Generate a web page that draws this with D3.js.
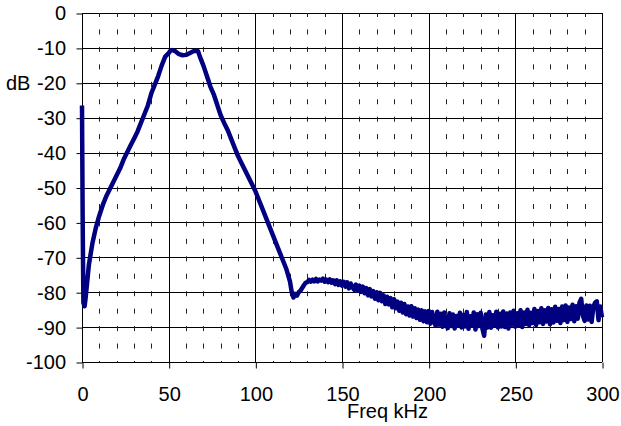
<html>
<head>
<meta http-equiv="Content-Type" content="text/html; charset=utf-8" />
<title>Freq response</title>
<script src="https://cdn.jsdelivr.net/npm/d3@7/dist/d3.min.js"></script>
<style type="text/css">
	body{
		margin: 0;
		background: #fff;
	}
	svg text{
		font-family: "Liberation Sans", Arial, sans-serif;
		font-size: 20px;
		fill: #000;
	}
</style>
</head>
<body>
<div id="chart"></div>

<script type="text/javascript">
	// axis ticks
	var xTicks = [0, 50, 100, 150, 200, 250, 300];
	var xMinor = [10, 20, 30, 40, 60, 70, 80, 90, 110, 120, 130, 140, 160, 170, 180, 190, 210, 220, 230, 240, 260, 270, 280, 290];
	var yTicks = [0, -10, -20, -30, -40, -50, -60, -70, -80, -90, -100];

	// measured response up to the notch, kHz / dB
	var freq = [0, 0.4, 0.8, 1.5, 2, 3, 4, 5, 6, 8, 10, 12, 14, 16, 18, 20, 22, 24, 26, 28, 30,
		32, 34, 36, 38, 40, 42, 44, 46, 48, 50, 51, 52, 54, 56, 58, 60, 62, 64, 66, 67, 68, 70,
		72, 74, 76, 78, 80, 82, 84, 86, 88, 90, 92, 94, 96, 98, 100, 102, 104, 106, 108, 110,
		112, 114, 116, 118, 120, 121, 122, 123, 124, 125];
	var level = [-26.5, -60, -83, -84, -82, -77, -72, -69, -66, -61.5, -58, -55, -52.5, -50.5, -48.5, -46.5, -44.5, -42, -40, -38, -36,
		-34, -31.5, -29, -26.5, -23, -20.5, -18, -15, -12.5, -11.5, -10.8, -10.6, -11.0, -11.8, -12.1, -12.0, -11.5, -11.0, -10.8, -11.0, -12.5, -15,
		-18, -21, -23.3, -26.3, -29.3, -31.5, -33.5, -36, -38.5, -41, -43, -45, -47, -49, -51, -53.5, -56, -58.5, -61, -63.5,
		-66, -68.5, -71, -73.5, -77, -80, -81.5, -80.5, -81, -80];

	// noisy tail, kHz / dB
	var tailFreq = [126, 127, 128, 129, 130, 131, 132, 133, 134, 135, 136, 137, 138, 139, 140,
		141, 142, 143, 144, 145, 146, 147, 148, 149, 150, 151, 152, 153, 154, 155,
		156, 157, 158, 159, 160, 161, 162, 163, 164, 165, 166, 167, 168, 169, 170,
		171, 172, 173, 174, 175, 176, 177, 178, 179, 180, 181, 182, 183, 184, 185,
		186, 187, 188, 189, 190, 191, 192, 193, 194, 195, 196, 197, 198, 199, 200,
		201, 202, 203, 204, 205, 206, 207, 208, 209, 210, 211, 212, 213, 214, 215,
		216, 217, 218, 219, 220, 221, 222, 223, 224, 225, 226, 227, 228, 229, 230,
		231, 232, 233, 234, 235, 236, 237, 238, 239, 240, 241, 242, 243, 244, 245,
		246, 247, 248, 249, 250, 251, 252, 253, 254, 255, 256, 257, 258, 259, 260,
		261, 262, 263, 264, 265, 266, 267, 268, 269, 270, 271, 272, 273, 274, 275,
		276, 277, 278, 279, 280, 281, 282, 283, 284, 285, 286, 287, 288, 289, 290,
		291, 292, 293, 294, 295, 296, 297, 298, 299, 300];
	var tailLevel = [-79.6, -78.8, -78.0, -77.3, -77.1, -76.5, -77.0, -76.4, -76.9, -76.2, -76.9, -76.4, -76.7, -76.1, -77.0,
		-76.4, -77.1, -76.3, -77.3, -76.6, -77.7, -76.6, -77.9, -76.9, -78.1, -77.0, -78.4, -77.2, -78.9, -77.5,
		-78.6, -79.3, -77.8, -79.6, -78.1, -79.9, -78.4, -80.3, -78.8, -80.9, -79.1, -81.2, -79.7, -81.9, -80.0,
		-82.3, -80.2, -82.6, -80.9, -83.4, -81.3, -83.5, -81.7, -84.3, -82.0, -84.6, -82.7, -85.3, -83.0, -85.8,
		-83.4, -86.3, -84.1, -86.7, -84.0, -87.0, -84.6, -87.4, -85.0, -87.9, -85.2, -88.3, -85.5, -88.6, -85.4,
		-89.0, -85.7, -88.2, -89.6, -85.6, -89.3, -86.2, -89.9, -85.8, -89.4, -90.3, -86.0, -89.7, -86.4, -90.4,
		-86.8, -89.5, -85.9, -90.1, -86.5, -89.8, -85.7, -90.5, -86.9, -89.6, -85.8, -90.7, -86.3, -89.7, -85.9,
		-90.4, -92.5, -86.4, -90.1, -85.7, -90.2, -86.6, -89.5, -85.6, -90.1, -86.2, -89.8, -85.5, -90.0, -86.1,
		-90.4, -85.8, -89.3, -85.3, -89.9, -86.0, -89.6, -85.2, -90.0, -85.8, -89.1, -85.0, -89.5, -85.9, -88.8,
		-84.8, -89.4, -85.4, -88.6, -84.6, -89.1, -85.2, -88.4, -84.5, -89.2, -84.9, -88.7, -84.2, -88.2, -84.8,
		-88.8, -84.1, -88.0, -83.8, -88.5, -84.4, -87.7, -83.6, -88.3, -84.0, -87.6, -83.0, -81.9, -86.8, -88.2,
		-83.8, -87.8, -83.9, -88.5, -84.3, -83.0, -82.6, -88.0, -84.1, -87.2];

	var W = 621, H = 426;
	var plotL = 82, plotR = 602, plotT = 13, plotB = 362;

	var x = d3.scaleLinear().domain([0, 300]).range([plotL, plotR]);
	var y = d3.scaleLinear().domain([-100, 0]).range([plotB, plotT]);

	var svg = d3.select('#chart')
		.append('svg')
		.attr('width', W)
		.attr('height', H);

	// horizontal grid
	svg.append('g')
		.selectAll('line')
		.data(yTicks)
		.enter()
		.append('line')
		.attr('x1', plotL)
		.attr('x2', plotR)
		.attr('y1', function(d){ return Math.round(y(d)) + 0.5; })
		.attr('y2', function(d){ return Math.round(y(d)) + 0.5; })
		.attr('stroke', '#000')
		.attr('stroke-width', 1);

	// minor vertical grid, dashed
	var band = (y(-10) - y(0)) / 2;
	svg.append('g')
		.selectAll('line')
		.data(xMinor)
		.enter()
		.append('line')
		.attr('x1', function(d){ return Math.round(x(d)) + 0.5; })
		.attr('x2', function(d){ return Math.round(x(d)) + 0.5; })
		.attr('y1', plotT)
		.attr('y2', plotB)
		.attr('stroke', '#222')
		.attr('stroke-width', 1)
		.attr('stroke-dasharray', '5,' + (band - 5))
		.attr('stroke-dashoffset', 1);

	// major vertical grid
	svg.append('g')
		.selectAll('line')
		.data(xTicks)
		.enter()
		.append('line')
		.attr('x1', function(d){ return Math.round(x(d)) + 0.5; })
		.attr('x2', function(d){ return Math.round(x(d)) + 0.5; })
		.attr('y1', plotT)
		.attr('y2', plotB)
		.attr('stroke', '#000')
		.attr('stroke-width', 1);

	// axes
	var plain = function(d){ return String(d); };
	var yAxis = d3.axisLeft(y)
		.tickValues(yTicks)
		.tickFormat(plain)
		.tickSize(6)
		.tickPadding(10.5);
	var gy = svg.append('g')
		.attr('transform', 'translate(' + (plotL + 0.5) + ',0.5)')
		.call(yAxis);

	var xAxis = d3.axisBottom(x)
		.tickValues(xTicks)
		.tickFormat(plain)
		.tickSize(6)
		.tickPadding(18.5);
	var gx = svg.append('g')
		.attr('transform', 'translate(0.5,' + (plotB + 0.5) + ')')
		.call(xAxis);

	[gx, gy].forEach(function(g){
		g.select('.domain').remove();
		g.selectAll('.tick line').attr('stroke', '#000');
		g.selectAll('.tick text')
			.attr('font-family', '"Liberation Sans", Arial, sans-serif')
			.attr('font-size', 20)
			.attr('fill', '#000');
	});

	// the trace
	var pts = freq.map(function(f, i){ return [f, level[i]]; })
		.concat(tailFreq.map(function(f, i){ return [f, tailLevel[i]]; }));
	var line = d3.line()
		.x(function(d){ return x(d[0]); })
		.y(function(d){ return y(d[1]); });

	svg.append('path')
		.datum(pts)
		.attr('d', line)
		.attr('fill', 'none')
		.attr('stroke', '#000080')
		.attr('stroke-width', 4.5)
		.attr('stroke-linejoin', 'round')
		.attr('stroke-linecap', 'butt');

	// axis titles
	svg.append('text')
		.attr('x', 6)
		.attr('y', y(-20))
		.attr('dy', '0.35em')
		.text('dB');

	svg.append('text')
		.attr('x', 387.5)
		.attr('y', 418)
		.attr('text-anchor', 'middle')
		.text('Freq kHz');
</script>
</body>
</html>
